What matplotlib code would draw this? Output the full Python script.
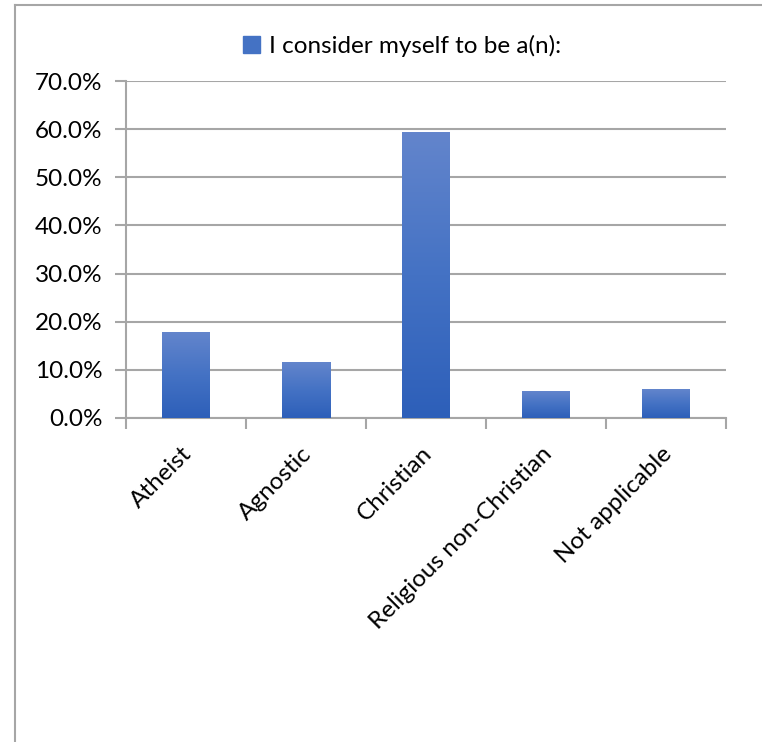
import numpy as np
import matplotlib.pyplot as plt
import matplotlib.transforms as mtransforms
from matplotlib.colors import LinearSegmentedColormap
from matplotlib.patches import Rectangle
from matplotlib.lines import Line2D

categories = ["Atheist", "Agnostic", "Christian", "Religious non-Christian", "Not applicable"]
values = [17.7, 11.6, 59.2, 5.6, 6.0]  # percent
series_name = "I consider myself to be a(n):"

plt.rcParams['font.family'] = ['Lato', 'DejaVu Sans']
fs = 17.5

fig = plt.figure(figsize=(7.62, 7.42), dpi=100, facecolor='white')
ax = fig.add_axes([126 / 762, 324 / 742, 600 / 762, 337 / 742])

grey = '#A6A6A6'
cmap = LinearSegmentedColormap.from_list('bar', ['#2D5FB9', '#4472C4', '#6385CC'])
grad = np.linspace(0, 1, 256).reshape(-1, 1)

x = np.arange(len(categories))
width = 0.4
bars = ax.bar(x, values, width=width, color='#4472C4', zorder=2)
for b in bars:
    x0 = b.get_x()
    h = b.get_height()
    ax.imshow(grad, extent=[x0, x0 + width, 0, h], origin='lower',
              aspect='auto', cmap=cmap, zorder=3)

ax.set_xlim(-0.5, len(categories) - 0.5)
ax.set_ylim(0, 70)
ax.set_yticks(np.arange(0, 71, 10))
ax.set_yticklabels([f"{v:.1f}%" for v in np.arange(0, 71, 10)])
ax.yaxis.grid(True, color=grey, linewidth=1.5, zorder=0)
ax.set_axisbelow(True)

ax.set_xticks(np.arange(-0.5, len(categories), 1.0), minor=False)
ax.set_xticklabels([])
ax.set_xticks(x, minor=True)
ax.set_xticklabels(categories, minor=True, rotation=45, ha='right',
                   va='top', rotation_mode='anchor', fontsize=fs)
ax.tick_params(axis='x', which='minor', length=0, pad=18)
ax.tick_params(axis='x', which='major', length=8, width=1.5, color=grey)
ax.tick_params(axis='y', length=8, width=1.5, color=grey, labelsize=fs, pad=9)

# nudge category labels a little to the left
shift = mtransforms.ScaledTranslation(-5 / 100, 0, fig.dpi_scale_trans)
for lbl in ax.xaxis.get_minorticklabels():
    lbl.set_transform(lbl.get_transform() + shift)

for s in ['top', 'right']:
    ax.spines[s].set_visible(False)
for s in ['left', 'bottom']:
    ax.spines[s].set_color(grey)
    ax.spines[s].set_linewidth(1.5)

handle = Rectangle((0, 0), 1, 1, color='#4472C4')
fig.legend([handle], [series_name], loc='center', bbox_to_anchor=(402 / 762, 1 - 46 / 742),
           frameon=False, fontsize=fs, handlelength=0.7, handleheight=0.7, handletextpad=0.4)

# outer chart border (partly visible)
fig.add_artist(Line2D([14.5 / 762, 14.5 / 762], [0, 1 - 5 / 742], color=grey, linewidth=1.5,
                      transform=fig.transFigure))
fig.add_artist(Line2D([14.5 / 762, 1], [1 - 5 / 742, 1 - 5 / 742], color=grey, linewidth=1.5,
                      transform=fig.transFigure))

fig.savefig('out.png', dpi=100, facecolor='white')
